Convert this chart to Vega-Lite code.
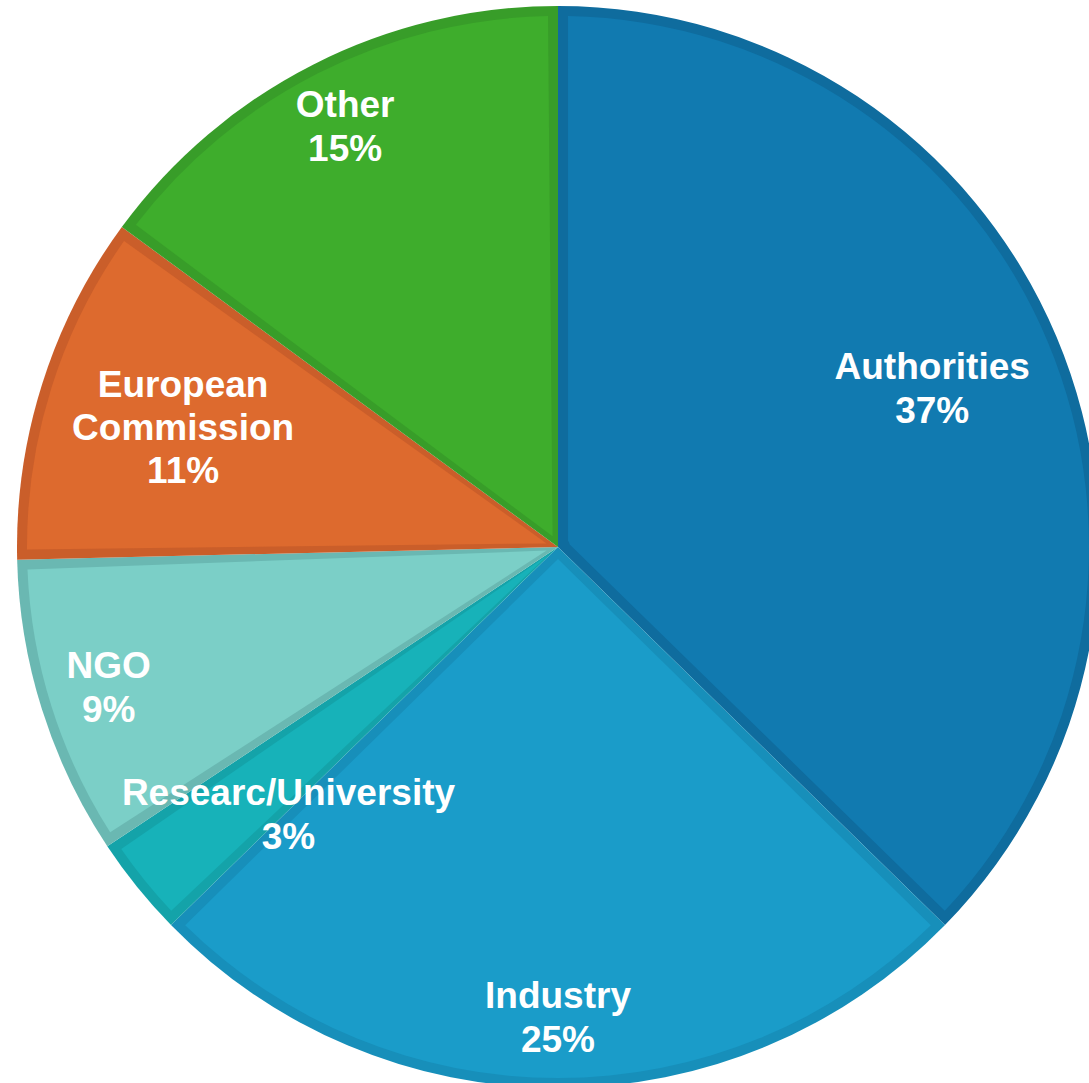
{
  "$schema": "https://vega.github.io/schema/vega-lite/v6.json",
  "width": 1116,
  "height": 1094,
  "padding": 0,
  "autosize": "none",
  "background": "white",
  "view": {"stroke": null},
  "data": {
    "values": [
      {"idx": 1, "cat": "Authorities", "n": 25, "label": "Authorities\n37%"},
      {"idx": 2, "cat": "Industry", "n": 17, "label": "Industry\n25%"},
      {"idx": 3, "cat": "Researc/University", "n": 2, "label": "Researc/University\n3%"},
      {"idx": 4, "cat": "NGO", "n": 6, "label": "NGO\n9%"},
      {"idx": 5, "cat": "European Commission", "n": 7, "label": "European\nCommission\n11%"},
      {"idx": 6, "cat": "Other", "n": 10, "label": "Other\n15%"}
    ]
  },
  "layer": [
    {
      "mark": {"type": "arc", "radius": 541, "stroke": null},
      "encoding": {
        "theta": {"field": "n", "type": "quantitative", "stack": true},
        "order": {"field": "idx", "type": "quantitative"},
        "color": {
          "field": "cat", "type": "nominal", "legend": null,
          "scale": {
            "domain": ["Authorities", "Industry", "Researc/University", "NGO", "European Commission", "Other"],
            "range": ["#0f6c9e", "#178fba", "#14a3a9", "#6ab8b2", "#ca5e2a", "#389d29"]
          }
        }
      }
    },
    {
      "mark": {"type": "arc", "radius": 531, "innerRadius": 12, "padAngle": 0.0377, "stroke": null},
      "encoding": {
        "theta": {"field": "n", "type": "quantitative", "stack": true},
        "order": {"field": "idx", "type": "quantitative"},
        "fill": {
          "field": "cat", "type": "nominal", "legend": null,
          "scale": {
            "domain": ["Authorities", "Industry", "Researc/University", "NGO", "European Commission", "Other"],
            "range": ["#117ab0", "#1a9cc9", "#17b2b9", "#7bcfc7", "#dd6a2e", "#3ead2c"]
          }
        }
      }
    },
    {
      "mark": {"type": "text", "radius": 471, "dy": -21, "font": "Liberation Sans", "fontWeight": "bold", "fontSize": 37, "lineHeight": 44, "lineBreak": "\n", "align": "center", "baseline": "middle", "color": "white"},
      "encoding": {
        "theta": {"field": "n", "type": "quantitative", "stack": true},
        "order": {"field": "idx", "type": "quantitative"},
        "text": {"field": "label", "type": "nominal"},
        "opacity": {"condition": {"test": "datum.cat === 'Industry' || datum.cat === 'NGO' || datum.cat === 'Other'", "value": 1}, "value": 0}
      }
    },
    {
      "mark": {"type": "text", "radius": 406, "dy": -21, "font": "Liberation Sans", "fontWeight": "bold", "fontSize": 37, "lineHeight": 44, "lineBreak": "\n", "align": "center", "baseline": "middle", "color": "white"},
      "encoding": {
        "theta": {"field": "n", "type": "quantitative", "stack": true},
        "order": {"field": "idx", "type": "quantitative"},
        "text": {"field": "label", "type": "nominal"},
        "opacity": {"condition": {"test": "datum.cat === 'Authorities'", "value": 1}, "value": 0}
      }
    },
    {
      "mark": {"type": "text", "radius": 393, "dy": -43, "font": "Liberation Sans", "fontWeight": "bold", "fontSize": 37, "lineHeight": 43, "lineBreak": "\n", "align": "center", "baseline": "middle", "color": "white"},
      "encoding": {
        "theta": {"field": "n", "type": "quantitative", "stack": true},
        "order": {"field": "idx", "type": "quantitative"},
        "text": {"field": "label", "type": "nominal"},
        "opacity": {"condition": {"test": "datum.cat === 'European Commission'", "value": 1}, "value": 0}
      }
    },
    {
      "mark": {"type": "text", "radius": 380, "dx": 26, "dy": 8, "font": "Liberation Sans", "fontWeight": "bold", "fontSize": 37, "lineHeight": 44, "lineBreak": "\n", "align": "center", "baseline": "middle", "color": "white"},
      "encoding": {
        "theta": {"field": "n", "type": "quantitative", "stack": true},
        "order": {"field": "idx", "type": "quantitative"},
        "text": {"field": "label", "type": "nominal"},
        "opacity": {"condition": {"test": "datum.cat === 'Researc/University'", "value": 1}, "value": 0}
      }
    }
  ]
}
